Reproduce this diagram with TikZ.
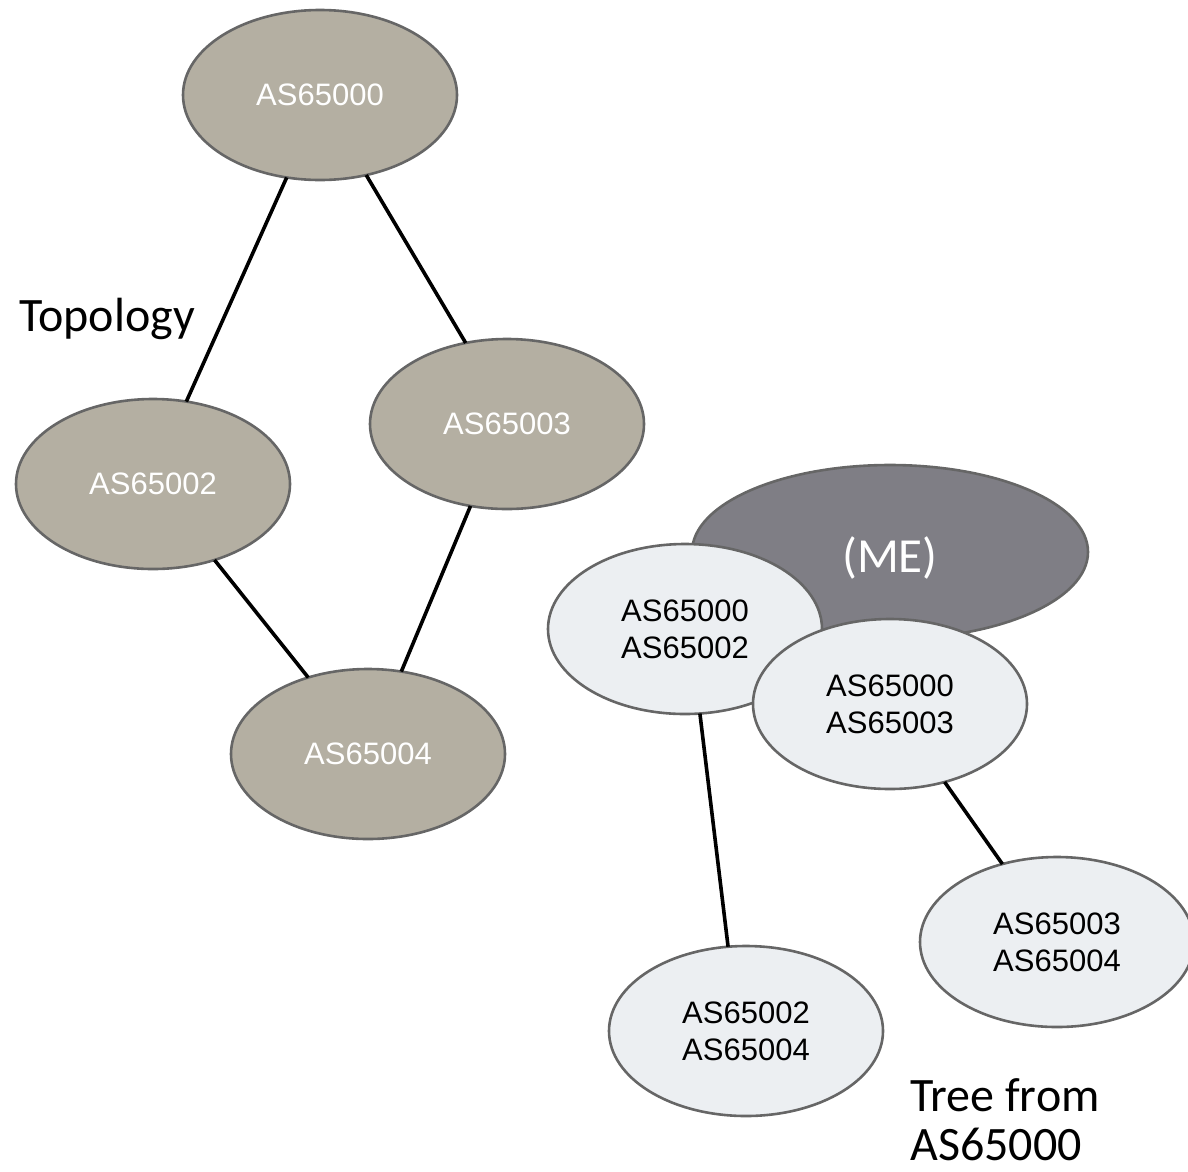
\documentclass[tikz,border=0pt]{standalone}
\usepackage{fontspec}
\setmainfont{Liberation Sans}
\newfontfamily\calibfont{Carlito}
\usetikzlibrary{shapes.geometric}

\definecolor{topofill}{HTML}{B4AFA2}
\definecolor{mefill}{HTML}{7F7E85}
\definecolor{treefill}{HTML}{ECEFF2}
\definecolor{rimgray}{HTML}{666666}

\tikzset{
  asnode/.style={ellipse, draw=rimgray, line width=2.6pt, inner sep=0pt, outer sep=0pt,
    minimum width=274pt, minimum height=170pt, align=center,
    font=\fontsize{31}{37}\selectfont},
  topo/.style={asnode, fill=topofill, text=white},
  treenode/.style={asnode, fill=treefill, text=black},
  menode/.style={asnode, fill=mefill, minimum width=396pt, minimum height=174pt},
  metext/.style={inner sep=0pt, text=white, font=\calibfont\fontsize{49}{54}\selectfont},
  link/.style={line width=3.6pt, black},
  caption/.style={inner sep=0pt, align=left, font=\calibfont\fontsize{48}{49}\selectfont}
}

\begin{document}
\begin{tikzpicture}[x=1pt,y=-1pt]
\useasboundingbox (0,0) rectangle (1188,1171);

% topology graph
\node[topo] (t0) at (320,95)  {AS65000};
\node[topo] (t3) at (507,424) {AS65003};
\node[topo] (t2) at (153,484) {AS65002};
\node[topo] (t4) at (368,754) {AS65004};

\draw[link] (t0.248.9) -- (t2.68.4);
\draw[link] (t0.300.4) -- (t3.117.6);
\draw[link] (t2.-51.5) -- (t4.128.4);
\draw[link] (t3.-114)  -- (t4.68);

\node[caption, anchor=base west] (topolabel) at (19,331) {Topology};

% tree rooted at AS65000
\node[menode] (me) at (890,552) {};
\node[metext, anchor=base] (melabel) at (890,572) {(ME)};
\node[treenode] (r02) at (685,629) {AS65000\\AS65002};
\node[treenode] (r03) at (890,704) {AS65000\\AS65003};
\node[treenode] (r24) at (746,1031) {AS65002\\AS65004};
\node[treenode] (r34) at (1057,942) {AS65003\\AS65004};

\draw[link] (r02.-80.3) -- (r24.102.2);
\draw[link] (r03.-55.2) -- (r34.125.5);

\node[caption, anchor=south west] (treelabel) at (910,1161) {Tree from\\AS65000};
\end{tikzpicture}
\end{document}
